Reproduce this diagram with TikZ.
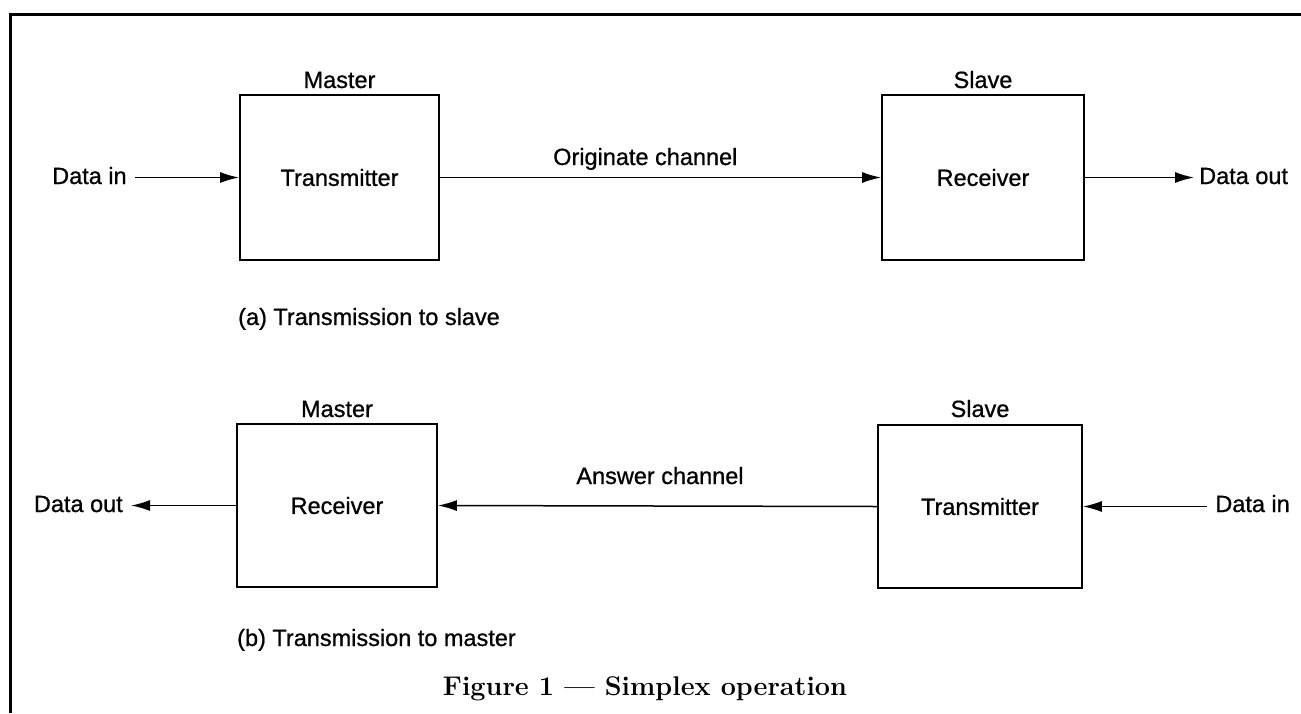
\documentclass[tikz,border=0pt]{standalone}
\usepackage{fontspec}
\newfontfamily\lblfont[FakeBold=0.8]{Liberation Sans}
\usetikzlibrary{arrows.meta}
\tikzset{
  lbl/.style={inner sep=0pt, font=\lblfont\fontsize{23.5}{28}\selectfont},
  blk/.style={draw, line width=1.8pt, inner sep=0pt, font=\lblfont\fontsize{23.5}{28}\selectfont},
  conn/.style={line width=1.5pt, -{Latex[length=19pt,width=11pt]}},
  frameline/.style={line width=3pt}
}
\begin{document}
\begin{tikzpicture}[x=1pt,y=-1pt]
\useasboundingbox (0,0) rectangle (1301,713);
% frame
\coordinate (ftl) at (10,14);
\coordinate (ftr) at (1301,14);
\coordinate (fbl) at (10,713);
\draw[frameline] (ftr) -- (ftl) -- (fbl);

% (a)
\node[blk, minimum width=199pt, minimum height=165pt] (b1) at (339.5,177.5) {Transmitter};
\node[blk, minimum width=202pt, minimum height=165pt] (b2) at (983,177.5) {Receiver};
\node[lbl, anchor=base] (m1) at (339.5,88) {Master};
\node[lbl, anchor=base] (s1) at (983,88) {Slave};
\node[lbl, anchor=base west] (din1) at (52,184) {Data in};
\node[lbl, anchor=base west] (dout1) at (1199,184) {Data out};
\node[lbl, anchor=base west] (orig) at (553,165) {Originate channel};
\node[lbl, anchor=base west] (capa) at (238,325) {(a) Transmission to slave};
\draw[conn, shorten <=8pt] (b1.west -| din1.east) -- (b1.west);
\draw[conn] (b1.east) -- (b2.west);
\draw[conn, shorten >=5pt] (b2.east) -- (b2.east -| dout1.west);

% (b)
\node[blk, minimum width=200pt, minimum height=163pt] (b3) at (337,505.5) {Receiver};
\node[blk, minimum width=204pt, minimum height=163pt] (b4) at (980,506.5) {Transmitter};
\node[lbl, anchor=base] (m2) at (337,417) {Master};
\node[lbl, anchor=base] (s2) at (980,417) {Slave};
\node[lbl, anchor=base east] (dout2) at (123,512) {Data out};
\node[lbl, anchor=base east] (din2) at (1290,512) {Data in};
\node[lbl, anchor=base] (ans) at (660,484) {Answer channel};
\node[lbl, anchor=base west] (capb) at (237,646) {(b) Transmission to master};
\draw[conn, shorten <=8pt] (b4.east -| din2.west) -- (b4.east);
\draw[conn] (b4.west) -- (b3.east);
\draw[conn, shorten >=8pt] (b3.west) -- (b3.west -| dout2.east);

% caption
\node[inner sep=0pt, anchor=base, font=\bfseries\fontsize{27}{32}\selectfont] (fig) at (645,695) {Figure 1 --- Simplex operation};
\end{tikzpicture}
\end{document}
